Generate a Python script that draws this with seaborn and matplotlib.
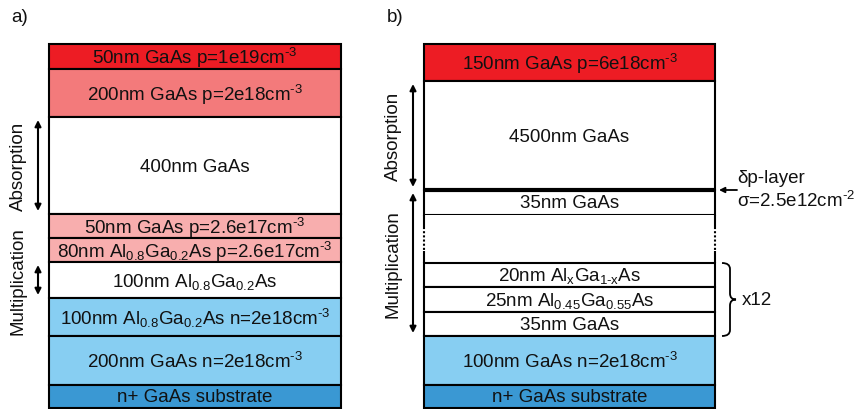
import matplotlib
matplotlib.use("Agg")
import matplotlib.pyplot as plt
import matplotlib.transforms as mtransforms
from matplotlib.path import Path
from matplotlib.patches import PathPatch
import numpy as np
import seaborn as sns

sns.set_theme(style="white")
plt.rcParams['font.family'] = ['Liberation Sans', 'DejaVu Sans']
plt.rcParams['mathtext.fontset'] = 'custom'
plt.rcParams['mathtext.rm'] = 'Liberation Sans'
plt.rcParams['mathtext.it'] = 'Liberation Sans:italic'
plt.rcParams['mathtext.bf'] = 'Liberation Sans:bold'

SUP3 = r"$\mathregular{^{\text{-}3}}$"
AL08 = r"Al$\mathregular{_{0.8}}$Ga$\mathregular{_{0.2}}$As"

# ---------------- data ----------------
# panel a: layers top -> bottom, drawn thickness
a_labels = [
    "50nm GaAs p=1e19cm" + SUP3,
    "200nm GaAs p=2e18cm" + SUP3,
    "400nm GaAs",
    "50nm GaAs p=2.6e17cm" + SUP3,
    "80nm " + AL08 + " p=2.6e17cm" + SUP3,
    "100nm " + AL08,
    "100nm " + AL08 + " n=2e18cm" + SUP3,
    "200nm GaAs n=2e18cm" + SUP3,
    "n+ GaAs substrate",
]
a_heights = [25, 48, 97, 24, 24, 36, 38, 49, 23]
a_doping = ["p++", "p+", "i", "p", "p", "i", "n", "n", "n+"]
a_regions = [("Absorption", 2, 2), ("Multiplication", 5, 5)]

# panel b
b_labels = [
    "150nm GaAs p=6e18cm" + SUP3,
    "4500nm GaAs",
    "35nm GaAs",
    "",
    r"20nm Al$\mathregular{_{x}}$Ga$\mathregular{_{1\text{-}x}}$As",
    r"25nm Al$\mathregular{_{0.45}}$Ga$\mathregular{_{0.55}}$As",
    "35nm GaAs",
    "100nm GaAs n=2e18cm" + SUP3,
    "n+ GaAs substrate",
]
b_heights = [37, 109, 25, 48, 24, 25, 24, 49, 23]
b_doping = ["p++", "i", "i", "gap", "i", "i", "i", "n", "n+"]
b_regions = [("Absorption", 1, 1), ("Multiplication", 2, 6)]
b_delta_after = 1           # delta-doped sheet below layer index 1
b_repeat = (4, 6)           # layers repeated
b_repeat_text = "x12"
b_delta_text = ["δp-layer", r"σ=2.5e12cm$\mathregular{^{\text{-}2}}$"]

palette = {
    "p++": "#ED1C24",
    "p+": "#F37A7B",
    "p": "#F8AEAE",
    "i": "#FFFFFF",
    "gap": "#FFFFFF",
    "n": "#87CEF2",
    "n+": "#3A98D3",
}

FS = 13.5
W, H = 859, 410
fig = plt.figure(figsize=(W / 100, H / 100), dpi=100)


def draw_stack(rect, labels, heights, doping, regions):
    ax = fig.add_axes(rect)
    heights = np.asarray(heights, dtype=float)
    bottoms = np.concatenate([[0], np.cumsum(heights)[:-1]])
    total = heights.sum()
    colors = [palette[d] for d in doping]
    edges = ["none" if d == "gap" else "black" for d in doping]
    ax.bar(0.5, heights, width=1.0, bottom=bottoms, color=colors,
           edgecolor=edges, linewidth=1.5, clip_on=False, zorder=1)
    for lab, b, h in zip(labels, bottoms, heights):
        if lab:
            ax.text(0.5, b + h / 2 + 0.5, lab, ha="center", va="center",
                    fontsize=FS, color="#111111", zorder=3)
    ax.set_xlim(0, 1)
    ax.set_ylim(total, 0)
    ax.axis("off")
    trans = mtransforms.blended_transform_factory(ax.transAxes, ax.transData)
    px = 1.0 / (rect[2] * W)
    for name, i0, i1 in regions:
        y0 = bottoms[i0]
        y1 = bottoms[i1] + heights[i1]
        ax.annotate("", xy=(-11 * px, y1 - 3), xytext=(-11 * px, y0 + 3),
                    xycoords=trans, textcoords=trans,
                    arrowprops=dict(arrowstyle="<|-|>", lw=1.5, color="black",
                                    mutation_scale=9, shrinkA=0, shrinkB=0))
        ax.text(-31 * px, (y0 + y1) / 2, name, rotation=90, ha="center",
                va="center", fontsize=FS, color="#111111", transform=trans)
    return ax, bottoms, heights, trans, px


ax_a, _, _, _, _ = draw_stack([49 / W, 1 / H, 292 / W, 364 / H],
                              a_labels, a_heights, a_doping, a_regions)
ax_b, bb, bh, tb, pxb = draw_stack([424 / W, 1 / H, 291 / W, 364 / H],
                                   b_labels, b_heights, b_doping, b_regions)

# gap layer sides: solid - dotted - solid
for i, d in enumerate(b_doping):
    if d == "gap":
        y0, h = bb[i], bh[i]
        for xs in (0, 1):
            ax_b.plot([xs, xs], [y0, y0 + 0.25 * h], color="black", lw=1.5,
                      clip_on=False, zorder=2, solid_capstyle="butt")
            ax_b.plot([xs, xs], [y0 + 0.25 * h, y0 + 0.75 * h], color="black",
                      lw=1.5, ls=(0, (1, 1)), clip_on=False, zorder=2)
            ax_b.plot([xs, xs], [y0 + 0.75 * h, y0 + h], color="black", lw=1.5,
                      clip_on=False, zorder=2, solid_capstyle="butt")

# delta-doping sheet
yd = bb[b_delta_after] + bh[b_delta_after]
ax_b.hlines(yd, 0, 1, color="black", lw=3, clip_on=False, zorder=2)
ax_b.annotate("", xy=(1 + 4 * pxb, yd), xytext=(1 + 22 * pxb, yd),
              xycoords=tb, textcoords=tb,
              arrowprops=dict(arrowstyle="-|>", lw=1.3, color="black",
                              mutation_scale=8, shrinkA=0, shrinkB=0))
ax_b.text(1 + 22 * pxb, yd - 12, b_delta_text[0], ha="left", va="center",
          fontsize=FS, color="#111111", transform=tb)
ax_b.text(1 + 22 * pxb, yd + 10, b_delta_text[1], ha="left", va="center",
          fontsize=FS, color="#111111", transform=tb)

# brace for repeated period
r0, r1 = b_repeat
y0 = bb[r0]
y1 = bb[r1] + bh[r1]
ym = (y0 + y1) / 2
x0 = 1 + 7 * pxb
xm = 1 + 15 * pxb
x1 = 1 + 21 * pxb
rr = 6
verts = [(x0, y0), (xm, y0), (xm, y0 + rr), (xm, ym - rr), (xm, ym), (x1, ym),
         (xm, ym), (xm, ym + rr), (xm, y1 - rr), (xm, y1), (x0, y1)]
codes = [Path.MOVETO, Path.CURVE3, Path.CURVE3, Path.LINETO, Path.CURVE3,
         Path.CURVE3, Path.CURVE3, Path.CURVE3, Path.LINETO, Path.CURVE3,
         Path.CURVE3]
ax_b.add_patch(PathPatch(Path(verts, codes), transform=tb, fill=False,
                         lw=1.3, edgecolor="black", clip_on=False))
ax_b.text(1 + 27 * pxb, ym, b_repeat_text, ha="left", va="center",
          fontsize=FS, color="#111111", transform=tb)

fig.text(11 / W, 1 - 17 / H, "a)", ha="left", va="center", fontsize=FS,
         color="#111111")
fig.text(387 / W, 1 - 17 / H, "b)", ha="left", va="center", fontsize=FS,
         color="#111111")

fig.savefig("out.png", dpi=100)
